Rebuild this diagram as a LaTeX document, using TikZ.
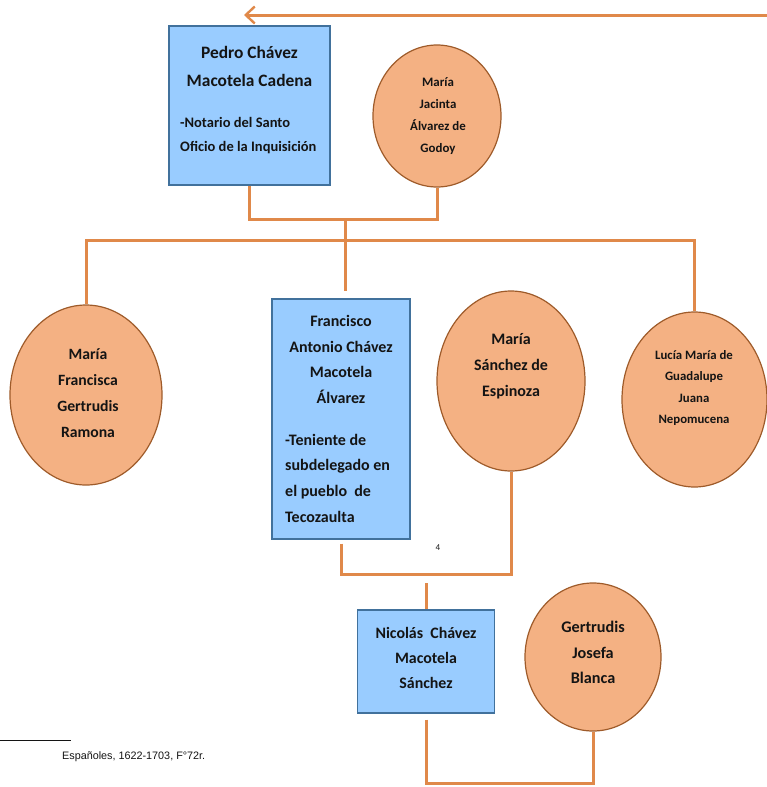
\documentclass[tikz,border=0pt]{standalone}
\usepackage{fontspec}
\setmainfont{Carlito}
\newfontfamily\notefont{Liberation Sans}
\usetikzlibrary{shapes.geometric,arrows.meta,calc}
\definecolor{boxfill}{RGB}{153,204,255}
\definecolor{boxline}{RGB}{65,113,156}
\definecolor{ovalfill}{RGB}{244,177,131}
\definecolor{ovalline}{RGB}{158,91,42}
\definecolor{linkcol}{RGB}{224,137,74}
\definecolor{inkcol}{RGB}{20,20,20}

\begin{document}
\begin{tikzpicture}[x=1pt,y=-1pt,
  person/.style={draw=boxline,fill=boxfill,line width=1.4pt,inner sep=0pt},
  spouse/.style={ellipse,draw=ovalline,fill=ovalfill,line width=1.2pt,inner sep=0pt},
  txt/.style={inner sep=0pt,align=center,text=inkcol},
  fs/.style 2 args={font=\fontsize{#1}{#2}\selectfont\bfseries},
  link/.style={draw=linkcol,line width=3pt}
]
\useasboundingbox (0,0) rectangle (767,787);

% generation 1
\node[person,minimum width=161pt,minimum height=159pt] (pedro) at (249.5,105.5) {};
\node[txt,fs={17.4}{28}] (pedro-name) at (249.5,66) {Pedro Chávez\\Macotela Cadena};
\node[txt,fs={14.5}{24},align=left,anchor=west] (pedro-note) at (180,136) {-Notario del Santo\\Oficio de la Inquisición};

\node[spouse,minimum width=128pt,minimum height=142pt] (jacinta) at (437,116) {};
\node[txt,fs={12.9}{22}] (jacinta-name) at (438,116) {María\\Jacinta\\Álvarez de\\Godoy};

% generation 2
\node[spouse,minimum width=152pt,minimum height=180pt] (francisca) at (86,395) {};
\node[txt,fs={15.7}{26}] (francisca-name) at (88,393) {María\\Francisca\\Gertrudis\\Ramona};

\node[person,minimum width=138pt,minimum height=240pt] (francisco) at (341,419) {};
\node[txt,fs={16}{25.7}] (francisco-name) at (341,359.5) {Francisco\\Antonio Chávez\\Macotela\\Álvarez};
\node[txt,fs={16}{25.7},align=left,anchor=west] (francisco-note) at (285,478) {-Teniente de\\subdelegado en\\el pueblo~ de\\Tecozaulta};

\node[spouse,minimum width=148pt,minimum height=180pt] (sanchez) at (511,381) {};
\node[txt,fs={16}{26}] (sanchez-name) at (511,366) {María\\Sánchez de\\Espinoza};

\node[spouse,minimum width=145pt,minimum height=175pt] (lucia) at (694.5,399.5) {};
\node[txt,fs={12.8}{21.5}] (lucia-name) at (694,388) {Lucía María de\\Guadalupe\\Juana\\Nepomucena};

% generation 3
\node[person,minimum width=137pt,minimum height=103pt] (nicolas) at (426,661.5) {};
\node[txt,fs={15.9}{25}] (nicolas-name) at (426,658) {Nicolás~ Chávez\\Macotela\\Sánchez};

\node[spouse,minimum width=136pt,minimum height=148pt] (gertrudis) at (593,657) {};
\node[txt,fs={16.2}{25.5}] (gertrudis-name) at (593,652.5) {Gertrudis\\Josefa\\Blanca};

% footnote mark and footnote
\node[txt,font=\fontsize{9}{10}\selectfont] (mark) at (438,548) {4};
\draw[line width=0.8pt,inkcol] (0,740) -- (71,740);
\node[txt,anchor=west,font=\notefont\fontsize{10.8}{12}\selectfont] (note) at (62,757) {Españoles, 1622-1703, F°72r.};

% connectors
\coordinate (src) at (767,15);
\coordinate (dst) at (244,15);
\coordinate (parents) at (345,219);
\coordinate (bar) at (345,240);
\coordinate (kid) at (426,574);
\coordinate (base) at (510,783);

\draw[link,-{Straight Barb[length=9pt,width=17pt,line width=2.4pt]}] (src) -- (dst);
\draw[link] (pedro.south) |- (parents) -| (jacinta.south);
\draw[link] (parents) -- ($(parents |- francisco.north)+(0,-7)$);
\draw[link] (francisca.north) |- (lucia.north |- bar) -- (lucia.north);
\draw[link] ([yshift=-4pt]francisco.south) |- (kid) -| (sanchez.south);
\draw[link] ([yshift=-9pt]kid) -- (nicolas.north);
\draw[link] ([yshift=-6pt]nicolas.south) |- (base) -| (gertrudis.south);
\end{tikzpicture}
\end{document}
